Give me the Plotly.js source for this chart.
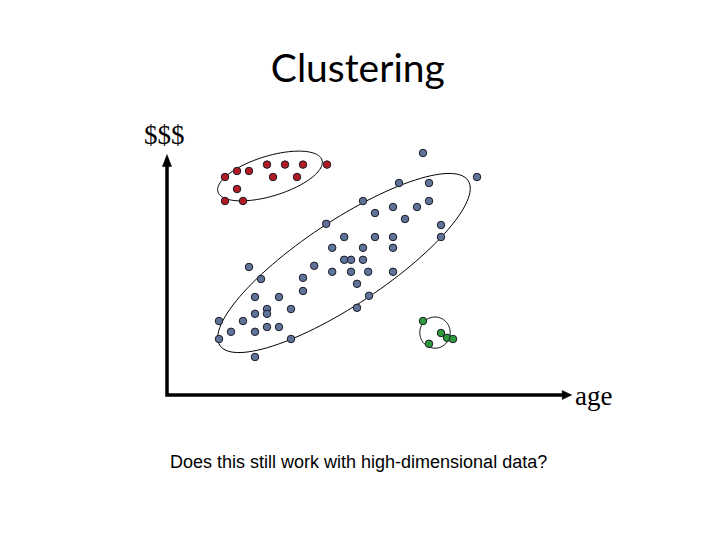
<!DOCTYPE html>
<html>
<head>
<meta charset="utf-8">
<script src="https://cdn.plot.ly/plotly-3.0.1.min.js"></script>
<style>html,body{margin:0;padding:0;background:#fff}#chart{width:720px;height:540px}</style>
</head>
<body>
<div id="chart"></div>
<script>
// Cluster 1 (red): age vs $$$
const redAge    = [14.5, 17.5, 20.5, 25, 29.5, 34, 40, 26.5, 32.5, 17.5, 14.5, 19];
const redMoney  = [54.5, 56, 56, 57.6, 57.6, 57.6, 57.6, 54.5, 54.5, 51.5, 48.5, 48.5];
// Cluster 2 (blue)
const blueAge   = [64, 77.5, 58, 65.5, 49, 65.5, 52, 56.5, 62.5, 59.5, 39.8, 68.5, 68.5, 44.3, 52, 56.5,
                   41.3, 49, 56.5, 44.3, 46, 49, 36.8, 41.3, 46, 50.3, 56.5, 47.5, 34, 34, 50.5, 20.5,
                   23.5, 47.5, 22, 28, 31, 25, 25, 22, 19, 13, 16, 22, 25, 28, 13, 31, 22];
const blueMoney = [60.5, 54.5, 53, 53, 48.5, 48.5, 45.5, 47, 47, 44, 42.8, 42.5, 39.5, 39.5, 39.5, 39.5,
                   36.8, 36.8, 36.8, 33.8, 33.8, 33.8, 32.3, 30.8, 30.8, 30.8, 30.8, 27.8, 29.3, 26, 24.8, 32,
                   29, 21.8, 24.5, 24.5, 21.5, 21.5, 20.3, 20.3, 18.5, 18.5, 15.8, 15.8, 17, 17, 14, 14, 9.5];
// Cluster 3 (green)
const greenAge   = [64, 68.5, 70, 71.5, 65.5];
const greenMoney = [18.5, 15.5, 14.3, 14, 12.8];

// Cluster outlines: [centerAge, centerMoney, semiMajor, semiMinor, angleDeg]
const ellipses = [
  [25.75, 54.75, 13.6, 5.0, 17],
  [44.25, 33.0, 37.25, 10.5, 33.6],
  [67.0, 15.6, 3.8, 3.9, 0]
];

const titleText = 'Clustering';
const yLabel = '$$$';
const xLabel = 'age';
const caption = 'Does this still work with high-dimensional data?';

function ellipsePath(e) {
  const [cx, cy, a, b, deg] = e;
  const th = deg * Math.PI / 180;
  let p = '';
  const n = 120;
  for (let i = 0; i <= n; i++) {
    const t = 2 * Math.PI * i / n;
    const x = cx + a * Math.cos(t) * Math.cos(th) - b * Math.sin(t) * Math.sin(th);
    const y = cy + a * Math.cos(t) * Math.sin(th) + b * Math.sin(t) * Math.cos(th);
    p += (i === 0 ? 'M ' : ' L ') + x.toFixed(3) + ',' + y.toFixed(3);
  }
  return p + ' Z';
}

function markerTrace(xs, ys, fill) {
  return {
    type: 'scatter', mode: 'markers', x: xs, y: ys,
    marker: {size: 7.5, color: fill, line: {color: '#1a1a2a', width: 1}},
    hoverinfo: 'skip', cliponaxis: false
  };
}

const data = [
  markerTrace(redAge, redMoney, '#b01c22'),
  markerTrace(blueAge, blueMoney, '#5f7298'),
  markerTrace(greenAge, greenMoney, '#2e9a3a')
];

const shapes = ellipses.map(e => ({
  type: 'path', xref: 'x', yref: 'y', path: ellipsePath(e),
  line: {color: '#000', width: 1}, fillcolor: 'rgba(0,0,0,0)', layer: 'below'
}));
// axis L with arrowheads
shapes.push({type: 'path', xref: 'x', yref: 'y', path: 'M 0,57.3 L 0,0 L 99,0',
  line: {color: '#000', width: 3.5}, layer: 'below'});
shapes.push({type: 'path', xref: 'x', yref: 'y', path: 'M -1.15,57.1 L 0,60.1 L 1.15,57.1 Z',
  line: {color: '#000', width: 0.5}, fillcolor: '#000'});
shapes.push({type: 'path', xref: 'x', yref: 'y', path: 'M 98.8,-1.15 L 101.2,0 L 98.8,1.15 Z',
  line: {color: '#000', width: 0.5}, fillcolor: '#000'});

const layout = {
  width: 720, height: 540,
  margin: {l: 147, r: 133, t: 139, b: 125},
  paper_bgcolor: '#fff', plot_bgcolor: '#fff',
  showlegend: false,
  title: {text: titleText, font: {family: 'Lato, Carlito, sans-serif', size: 39, color: '#000'},
          x: 0.497, xanchor: 'center', y: 0.873, yanchor: 'middle', yref: 'container'},
  xaxis: {range: [-5, 105], visible: false, fixedrange: true},
  yaxis: {range: [-5, 64], visible: false, fixedrange: true},
  shapes: shapes,
  annotations: [
    {text: yLabel, xref: 'paper', yref: 'paper', x: 0.0409, y: 1.0145, showarrow: false,
     xanchor: 'center', yanchor: 'middle', font: {family: 'Liberation Serif, serif', size: 27, color: '#000'}},
    {text: xLabel, xref: 'paper', yref: 'paper', x: 1.0148, y: 0.0688, showarrow: false,
     xanchor: 'center', yanchor: 'middle', font: {family: 'Liberation Serif, serif', size: 27, color: '#000'}},
    {text: caption, xref: 'paper', yref: 'paper', x: 0.4818, y: -0.1703, showarrow: false,
     xanchor: 'center', yanchor: 'middle', font: {family: 'Liberation Sans, Arial, sans-serif', size: 18, color: '#000'}}
  ]
};

Plotly.newPlot('chart', data, layout, {staticPlot: true, displayModeBar: false});
</script>
</body>
</html>
